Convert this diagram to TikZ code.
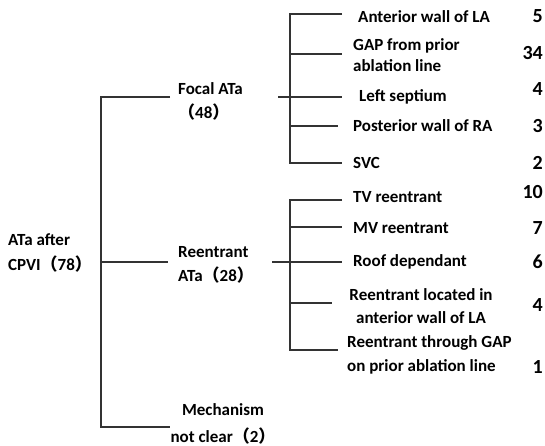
\documentclass[tikz,border=0pt]{standalone}
\usepackage{fontspec}
\setmainfont{Carlito}
\newfontfamily\cjkfont{Noto Sans CJK SC}
\newcommand{\fwopen}{{\cjkfont （}}
\newcommand{\fwclose}{{\cjkfont ）}}

\begin{document}
\begin{tikzpicture}[x=1pt,y=-1pt,
    lbl/.style={font=\bfseries\fontsize{17}{24}\selectfont, inner sep=0pt, anchor=west, align=left},
    cnt/.style={font=\bfseries\fontsize{20}{22}\selectfont, inner sep=0pt, anchor=east},
    br/.style={draw=black!80, line width=1.2pt}]
\useasboundingbox (0,0) rectangle (545,446);
%Main labels on the left, then the two sub-brackets
\node[lbl, font=\bfseries\fontsize{17}{25}\selectfont] (root) at (8,253) {ATa after\\CPVI\fwopen 78\fwclose};
\node[lbl] (focal) at (178,101) {Focal ATa\\\fwopen 48\fwclose};
\node[lbl] (reent) at (178,265) {Reentrant\\ATa\fwopen 28\fwclose};
\node[lbl, anchor=center, align=center, font=\bfseries\fontsize{17}{27}\selectfont] (mech) at (223,424) {Mechanism\\not clear\fwopen 2\fwclose};
% focal ATa sites
\node[lbl] (antla) at (358,17) {Anterior wall of LA};
\node[lbl, font=\bfseries\fontsize{17}{21}\selectfont] (gap) at (353,55) {GAP from prior\\ablation line};
\node[lbl] (lsep) at (359,97) {Left septium};
\node[lbl] (postra) at (353,126) {Posterior wall of RA};
\node[lbl] (svc) at (353,163) {SVC};
% reentrant circuits
\node[lbl] (tv) at (353,197) {TV reentrant};
\node[lbl] (mv) at (353,228) {MV reentrant};
\node[lbl] (roof) at (353,262) {Roof dependant};
\node[lbl, anchor=center, align=center, font=\bfseries\fontsize{17}{23}\selectfont] (antre) at (421,306) {Reentrant located in\\anterior wall of LA};
\node[lbl] (thrgap) at (347,355) {Reentrant through GAP\\on prior ablation line};
% counts
\node[cnt] (n1) at (543,16) {5};
\node[cnt] (n2) at (543,53) {34};
\node[cnt] (n3) at (543,89) {4};
\node[cnt] (n4) at (543,126) {3};
\node[cnt] (n5) at (543,163) {2};
\node[cnt] (n6) at (543,192) {10};
\node[cnt] (n7) at (543,228) {7};
\node[cnt] (n8) at (543,262) {6};
\node[cnt] (n9) at (543,305) {4};
\node[cnt] (n10) at (543,367) {1};
% root bracket
\coordinate (rtop) at (101,97);
\coordinate (rbot) at (101,427);
\coordinate (focin) at (170,97);
\coordinate (rein) at (168,262);
\coordinate (mechin) at (170,427);
\draw[br] (focin) -- (rtop) -- (rbot) -- (mechin);
\draw[br] (rtop |- rein) -- (rein);
% focal bracket
\coordinate (fout) at (278,97);
\coordinate (ftop) at (290,14);
\coordinate (fbot) at (290,163);
\coordinate (fa) at (342,14);
\coordinate (fb) at (342,54);
\coordinate (fc) at (342,97);
\coordinate (fd) at (338,126);
\coordinate (fe) at (342,163);
\draw[br] (fa) -- (ftop) -- (fbot) -- (fe);
\draw[br] (ftop |- fb) -- (fb);
\draw[br] (fout) -- (fc);
\draw[br] (ftop |- fd) -- (fd);
% reentrant bracket
\coordinate (rout) at (272,262);
\coordinate (stop) at (290,200);
\coordinate (sbot) at (290,350);
\coordinate (ra) at (342,200);
\coordinate (rb) at (342,227);
\coordinate (rc) at (342,262);
\coordinate (rd) at (332,303);
\coordinate (re) at (338,350);
\draw[br] (ra) -- (stop) -- (sbot) -- (re);
\draw[br] (stop |- rb) -- (rb);
\draw[br] (rout) -- (rc);
\draw[br] (stop |- rd) -- (rd);
\end{tikzpicture}
\end{document}
